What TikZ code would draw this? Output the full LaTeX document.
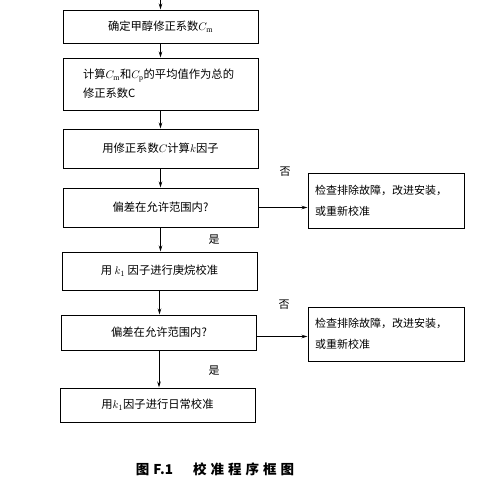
\documentclass[tikz,border=0pt]{standalone}
\usepackage{fontspec}
\setmainfont{Liberation Serif}
\newfontfamily\cjk{Noto Sans CJK SC}
\usetikzlibrary{arrows.meta}
\newcommand{\cg}{\hspace{4pt}}
\begin{document}
\begin{tikzpicture}[x=1pt,y=-1pt,
  box/.style={draw,line width=1pt,minimum width=195pt,inner sep=0pt,font=\cjk\fontsize{11.3}{14}\selectfont},
  rbox/.style={draw,line width=1pt,minimum width=156pt,minimum height=55pt,inner sep=0pt,font=\cjk\fontsize{11}{21}\selectfont},
  arr/.style={line width=0.9pt,-{Stealth[length=6pt,width=3.5pt]}},
  lbl/.style={font=\cjk\fontsize{11}{12}\selectfont}]
\useasboundingbox (0,0) rectangle (490,482);
\coordinate (top) at (160.5,0);
\node[box,minimum height=33pt] (b1) at (160.5,26.5) {确定甲醇修正系数$C_{\mathrm m}$};
\node[box,minimum height=52pt,align=left,text width=155pt] (b2) at (160.5,84) {计算$C_{\mathrm m}$和$C_{\mathrm p}$的平均值作为总的\\[5pt]修正系数C};
\node[box,minimum height=39pt] (b3) at (160.5,148.5) {用修正系数$C$计算$k$因子};
\node[box,minimum height=39pt] (b4) at (160.5,207.5) {偏差在允许范围内?};
\node[box,minimum height=38pt] (b5) at (159.5,271) {用 $k_1$ 因子进行庚烷校准};
\node[box,minimum height=35pt] (b6) at (159,332.5) {偏差在允许范围内?};
\node[box,minimum height=34pt] (b7) at (157.5,405) {用$k_1$因子进行日常校准};
\node[rbox,align=left,text width=142pt] (r1) at (386,200.5) {检查排除故障，改进安装，\\或重新校准};
\node[rbox,minimum height=54pt,align=left,text width=142pt] (r2) at (386,334) {检查排除故障，改进安装，\\或重新校准};
\draw[arr] (top) -- (b1.north);
\draw[arr] (b1) -- (b2);
\draw[arr] (b2) -- (b3);
\draw[arr] (b3) -- (b4);
\draw[arr] (b4.south) -- (b5.north -| b4.south);
\draw[arr] (b5.south) -- (b6.north -| b5.south);
\draw[arr] (b6.south) -- (b7.north -| b6.south);
\draw[arr] (b4.east) -- (b4.east -| r1.west);
\draw[arr] (b6.east) ++(0,4) coordinate (e6) -- (e6 -| r2.west);
\node[lbl] (n1) at (285,172) {否};
\node[lbl] (y1) at (214,240) {是};
\node[lbl] (n2) at (284,305) {否};
\node[lbl] (y2) at (214,371) {是};
\node[font=\cjk\bfseries\fontsize{13.5}{14}\selectfont] (cap) at (215,469) {图\cg F.1\hspace{20pt}校\cg 准\cg 程\cg 序\cg 框\cg 图};
\end{tikzpicture}
\end{document}
